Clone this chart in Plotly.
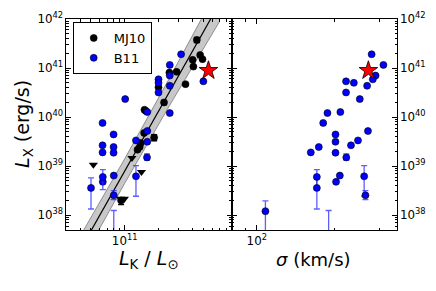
import numpy as np
import plotly.graph_objects as go

# ---------------- data ----------------
# B11 sample: K-band luminosity, X-ray luminosity, velocity dispersion
b11_lk = [3.18e11, 2.52e11, 2.52e11, 2.0e11, 5.02e11, 2.0e11, 2.52e11, 2.0e11, 1.01e11,
          1.59e11, 2.52e11, 6.35e10, 1.59e11, 7.96e10, 1.26e11, 1.59e11, 6.35e10, 7.96e10,
          6.35e10, 7.96e10, 1.58e11, 7.99e10, 1.26e11, 6.38e10, 6.38e10, 5.01e10, 7.99e10,
          2.5e10, 7.99e10]
b11_lx = [1.91e41, 1.16e41, 7.03e40, 5.89e40, 5.36e40, 5.0e40, 4.35e40, 3.18e40, 2.33e40,
          1.27e40, 1.21e40, 7.6e39, 5.21e39, 4.44e39, 3.35e39, 3.15e39, 2.66e39, 2.46e39,
          1.91e39, 1.88e39, 1.51e39, 6.43e38, 6.21e38, 6.04e38, 4.79e38, 3.61e38, 2.55e38,
          1.21e38, 3.0e37]
b11_sigma = [279, 310, 289, 282, 222, 238, 268, 222, 251,
             211, 188, 181, 270, 202, 247, 202, 232, 174,
             162, 202, 222.5, 210, 261, 171, 203, 171, 264,
             108, 190]
b11_lx_hi = [None] * 20 + [1.77e39, None, 1.03e39, 8.5e38, None, 5.77e38, 3.18e38, 1.96e38, 1.25e38]
b11_lx_lo = [None] * 20 + [1.33e39, None, 2.44e38, 3.33e38, None, 1.34e38, 2.09e38, 1.0e37, 1.0e37]

# MJ10 sample: detections
mj_lk = [4.39e11, 4.70e11, 4.93e11, 4.03e11, 4.09e11, 2.90e11, 2.50e11, 3.48e11, 2.0e11,
         2.24e11, 1.50e11, 1.54e11, 1.49e11, 1.83e11, 1.39e11, 1.36e11, 1.30e11, 9.29e10]
mj_lx = [3.74e41, 1.85e41, 1.52e41, 1.47e41, 1.07e41, 8.36e40, 8.09e40, 4.70e40, 4.04e40,
         1.99e40, 1.41e40, 1.34e40, 4.74e39, 3.86e39, 2.97e39, 2.46e39, 2.17e39, 1.99e38]
mj_lx_hi = [4.24e41, None, None, None, None, None, None, None, None,
            2.2e40, None, None, None, 4.38e39, None, None, None, 2.29e38]
mj_lx_lo = [3.30e41, None, None, None, None, None, None, None, None,
            1.8e40, None, None, None, 3.30e39, None, None, None, 1.65e38]

# MJ10 upper limits
mj_ul_lk = [5.26e10, 1.16e11, 1.41e11, 9.16e10, 9.94e10]
mj_ul_lx = [1.07e39, 1.47e39, 7.64e38, 2.16e38, 2.16e38]

# highlighted object (red star)
star_lk = [5.57e11]
star_lx = [8.9e40]
star_sigma = [271]

# best-fit relation and its uncertainty band
fit_lk = [4.0e10, 7.0e11]
fit_lx = [1.94e37, 2.1e42]
band_lk = [4.0e10, 1.0e11, 2.5e11, 7.0e11]
band_upper = [3.7e37, 1.41e39, 6.17e40, 4.9e42]
band_lower = [1.02e37, 4.47e38, 1.70e40, 8.9e41]

# axis ranges
lk_range = [3e10, 9e11]
sigma_range = [80, 350]
lx_range = [5e37, 1e42]

# ---------------- figure ----------------
FONT = "DejaVu Sans"
BLUE = "#0000ff"
fig = go.Figure()


def split(xs, ys, his, los):
    with_err = [(x, y, h, l) for x, y, h, l in zip(xs, ys, his, los) if h is not None]
    no_err = [(x, y) for x, y, h in zip(xs, ys, his) if h is None]
    return with_err, no_err


def add_series(xs, ys, his, los, color, ecolor, name, xa, ya, legend):
    we, ne = split(xs, ys, his, los)
    marker = dict(color=color, size=7, line=dict(color="black", width=0.6))
    fig.add_trace(go.Scatter(
        x=[p[0] for p in ne], y=[p[1] for p in ne], mode="markers", marker=marker,
        name=name, showlegend=legend, legendgroup=name, xaxis=xa, yaxis=ya))
    fig.add_trace(go.Scatter(
        x=[p[0] for p in we], y=[p[1] for p in we], mode="markers", marker=marker,
        name=name, showlegend=False, legendgroup=name, xaxis=xa, yaxis=ya,
        error_y=dict(type="data", symmetric=False,
                     array=[p[2] - p[1] for p in we],
                     arrayminus=[p[1] - p[3] for p in we],
                     color=ecolor, thickness=1.3, width=3)))


# band
fig.add_trace(go.Scatter(
    x=band_lk + band_lk[::-1], y=band_upper + band_lower[::-1],
    fill="toself", fillcolor="rgb(200,200,200)", mode="lines",
    line=dict(color="rgb(120,120,120)", width=0.8), showlegend=False,
    hoverinfo="skip", xaxis="x", yaxis="y"))
fig.add_trace(go.Scatter(
    x=fit_lk, y=fit_lx, mode="lines", line=dict(color="black", width=1.2),
    showlegend=False, xaxis="x", yaxis="y"))

# MJ10
add_series(mj_lk, mj_lx, mj_lx_hi, mj_lx_lo, "black", "black", "MJ10", "x", "y", True)
fig.add_trace(go.Scatter(
    x=mj_ul_lk, y=mj_ul_lx, mode="markers",
    marker=dict(symbol="triangle-down", color="black", size=8, line=dict(width=0)),
    showlegend=False, xaxis="x", yaxis="y"))

# B11 left and right
add_series(b11_lk, b11_lx, b11_lx_hi, b11_lx_lo, BLUE, "rgba(40,40,255,0.75)", "B11", "x", "y", True)
add_series(b11_sigma, b11_lx, b11_lx_hi, b11_lx_lo, BLUE, "rgba(40,40,255,0.75)", "B11", "x2", "y2", False)

# stars
for xs, xa, ya in [(star_lk, "x", "y"), (star_sigma, "x2", "y2")]:
    fig.add_trace(go.Scatter(
        x=xs, y=star_lx, mode="markers",
        marker=dict(symbol="star", color="red", size=14, line=dict(color="black", width=0.8)),
        showlegend=False, xaxis=xa, yaxis=ya))

# page body has an 8px margin: lay the figure out in page pixels minus that offset
OFF = 8
W, H = 436 - OFF, 291 - OFF
L, T = 66 - OFF, 19 - OFF
R = W - (396.7 - OFF)
B = H - (230 - OFF)
pw = W - L - R
ph = H - T - B
split_frac = 0.501

common_axis = dict(
    type="log", showgrid=False, zeroline=False, showline=True, linecolor="black",
    linewidth=1, mirror="ticks", ticks="inside", ticklen=5, tickwidth=1,
    tickcolor="black", dtick=1, exponentformat="power",
    tickfont=dict(family=FONT, size=9.5, color="black"),
    minor=dict(ticks="inside", ticklen=2.5, tickwidth=0.8, tickcolor="black",
               dtick="D1", showgrid=False),
)


def px_x(p):
    return (p - OFF - L) / pw


def px_y(p):
    return (H - B - (p - OFF)) / ph


fig.update_layout(
    width=W, height=H,
    margin=dict(l=L, r=R, t=T, b=B, autoexpand=False),
    paper_bgcolor="white", plot_bgcolor="white",
    font=dict(family=FONT, color="black"),
    xaxis=dict(common_axis, domain=[0, split_frac],
               range=[np.log10(lk_range[0]), np.log10(lk_range[1])], anchor="y"),
    xaxis2=dict(common_axis, domain=[split_frac, 1],
                range=[np.log10(sigma_range[0]), np.log10(sigma_range[1])], anchor="y2"),
    yaxis=dict(common_axis, range=[np.log10(lx_range[0]), np.log10(lx_range[1])],
               anchor="x", domain=[0, 1]),
    yaxis2=dict(common_axis, range=[np.log10(lx_range[0]), np.log10(lx_range[1])],
                anchor="x2", side="right", domain=[0, 1]),
    legend=dict(x=px_x(72.7), y=px_y(22), xanchor="left", yanchor="top",
                bgcolor="white", bordercolor="black", borderwidth=1,
                font=dict(family=FONT, size=13, color="black"),
                tracegroupgap=0, itemwidth=30),
    showlegend=True,
)

fig.add_annotation(text="<i>L</i><sub>X</sub> (erg/s)", xref="paper", yref="paper",
                   x=px_x(23), y=px_y(124), textangle=-90, showarrow=False,
                   font=dict(family=FONT, size=19, color="black"),
                   xanchor="center", yanchor="middle")
fig.add_annotation(text="<i>L</i><sub>K</sub> / <i>L</i><sub>\u2299</sub>", xref="paper", yref="paper",
                   x=px_x(149), y=px_y(260), showarrow=False,
                   font=dict(family=FONT, size=19, color="black"),
                   xanchor="center", yanchor="middle")
fig.add_annotation(text="<i>\u03c3</i> (km/s)", xref="paper", yref="paper",
                   x=px_x(313), y=px_y(259), showarrow=False,
                   font=dict(family=FONT, size=18, color="black"),
                   xanchor="center", yanchor="middle")

fig.write_html("out.html")
